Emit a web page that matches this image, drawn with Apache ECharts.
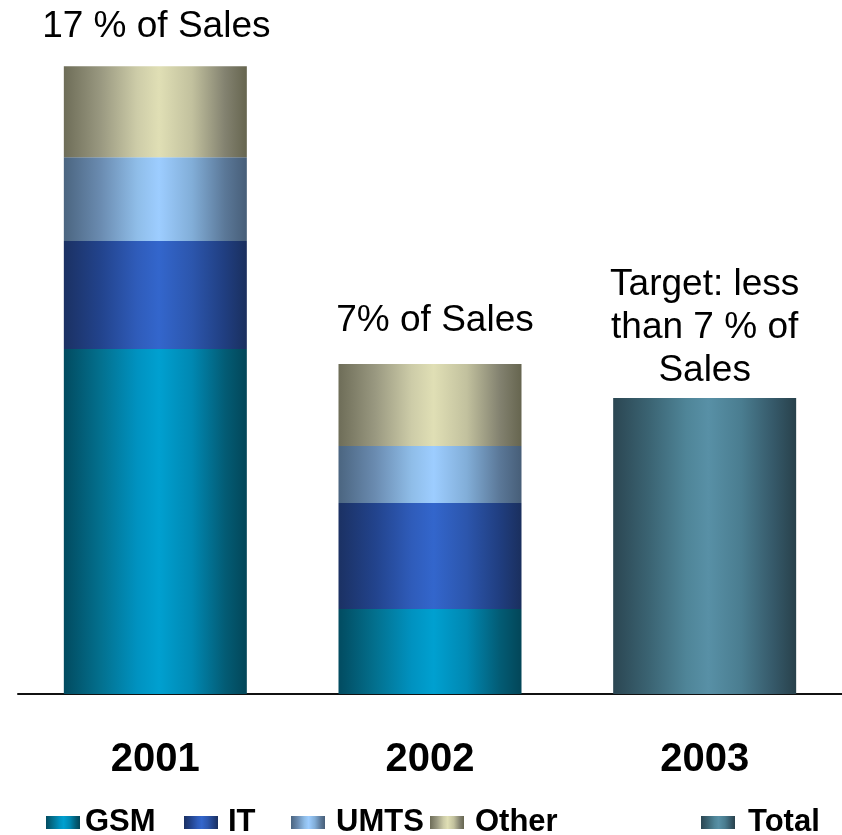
<!DOCTYPE html>
<html>
<head>
<meta charset="utf-8">
<script src="https://cdn.jsdelivr.net/npm/echarts@6/dist/echarts.min.js"></script>
<style>
html,body{margin:0;padding:0;background:#fff;}
#c{width:842px;height:835px;}
</style>
</head>
<body>
<div id="c"></div>
<script>
// Data (percent of sales)
var years = ['2001', '2002', '2003'];
var gsm   = [9.34, 2.30, null];
var it    = [2.92, 2.87, null];
var umts  = [2.27, 1.54, null];
var other = [2.46, 2.22, null];
var total = [null, null, 8.01];
var topLabels = ['17 % of Sales', '7% of Sales', 'Target: less\nthan 7 % of\nSales'];
var seriesNames = ['GSM', 'IT', 'UMTS', 'Other', 'Total'];

function grad(c) {
  return new echarts.graphic.LinearGradient(0, 0, 1, 0, [
    {offset: 0, color: c[0]}, {offset: 0.2, color: c[1]}, {offset: 0.4, color: c[2]},
    {offset: 0.52, color: c[3]}, {offset: 0.7, color: c[4]}, {offset: 0.88, color: c[5]},
    {offset: 1, color: c[6]}
  ]);
}
var palettes = {
  GSM:   ['#024b60', '#03708e', '#0092c0', '#00a0d0', '#0088b2', '#035c75', '#034658'],
  IT:    ['#1b3163', '#22438c', '#2f5cba', '#3366cc', '#2c56ad', '#203e80', '#1a2f5e'],
  UMTS:  ['#4b6580', '#6a8bb0', '#8fbde8', '#9dcdff', '#82aed8', '#5b7898', '#475e78'],
  Other: ['#6e6d58', '#999880', '#cdcca8', '#e0dfb5', '#c2c19e', '#838270', '#66654f'],
  Total: ['#2b4652', '#3b6473', '#4f8598', '#5890a6', '#4a7d90', '#355868', '#28414b']
};

var labelDist = [18, 22, 6];
var labelOffset = [[1, 0], [5, 0], [0, 0]];
function withLabels(arr) {
  return arr.map(function (v, i) {
    if (v === null) return '-';
    return {
      value: v,
      label: {
        show: true, position: 'top', distance: labelDist[i], offset: labelOffset[i],
        formatter: topLabels[i], fontSize: 37, lineHeight: 43,
        fontFamily: 'Liberation Sans, Arial, sans-serif', color: '#000'
      }
    };
  });
}
function plain(arr) { return arr.map(function (v) { return v === null ? '-' : v; }); }

var dataMap = {GSM: plain(gsm), IT: plain(it), UMTS: plain(umts), Other: withLabels(other), Total: withLabels(total)};

var series = seriesNames.map(function (n) {
  return {
    name: n, type: 'bar', stack: 'a', barWidth: 183,
    itemStyle: {color: grad(palettes[n])},
    data: dataMap[n]
  };
});

var legendPos = [41, 179, 286, 425, 696];
var legendGap = [0, 5, 6, 6, 8];
var legends = seriesNames.map(function (n, i) {
  return {
    data: [n], left: legendPos[i], top: 802, itemWidth: 34, itemHeight: 13,
    itemGap: 0, selectedMode: false, icon: 'rect',
    textStyle: {fontSize: 31, fontWeight: 'bold', color: '#000',
      fontFamily: 'Liberation Sans, Arial, sans-serif', padding: [0, 0, 0, legendGap[i]]}
  };
});

var chart = echarts.init(document.getElementById('c'), null, {renderer: 'canvas'});
chart.setOption({
  animation: false,
  backgroundColor: '#fff',
  grid: {left: 18, right: 0, top: 66, bottom: 141, containLabel: false},
  xAxis: {
    type: 'category', data: years,
    axisLine: {lineStyle: {color: '#111', width: 2}},
    axisTick: {show: false},
    axisLabel: {fontSize: 40, fontWeight: 'bold', color: '#000', margin: 46,
      fontFamily: 'Liberation Sans, Arial, sans-serif'}
  },
  yAxis: {type: 'value', min: 0, max: 17, show: false, splitLine: {show: false}},
  legend: legends,
  series: series
});
</script>
</body>
</html>
